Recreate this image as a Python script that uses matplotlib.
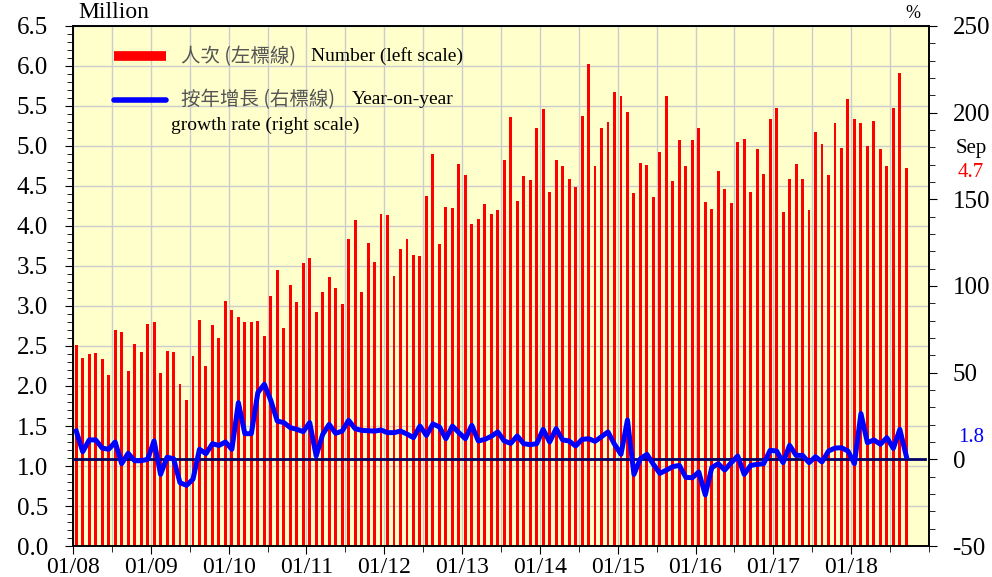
import numpy as np
import matplotlib
matplotlib.use("Agg")
import matplotlib.pyplot as plt
from matplotlib.ticker import MultipleLocator, FixedLocator

plt.rcParams['font.family'] = ['Liberation Serif', 'DejaVu Serif']
plt.rcParams['axes.unicode_minus'] = False

# Monthly data, Jan 2008 - Sep 2018
number = [
    2.51, 2.35, 2.40, 2.41, 2.34, 2.14, 2.70, 2.67, 2.19, 2.52, 2.42, 2.78,
    2.80, 2.16, 2.44, 2.43, 2.02, 1.82, 2.37, 2.83, 2.25, 2.76, 2.60, 3.06,
    2.95, 2.86, 2.80, 2.80, 2.81, 2.62, 3.13, 3.45, 2.72, 3.26, 3.05, 3.54,
    3.60, 2.92, 3.18, 3.36, 3.22, 3.03, 3.84, 4.07, 3.18, 3.79, 3.55, 4.15,
    4.14, 3.37, 3.71, 3.84, 3.64, 3.62, 4.37, 4.90, 3.78, 4.24, 4.22, 4.78,
    4.64, 4.02, 4.09, 4.28, 4.15, 4.20, 4.83, 5.36, 4.31, 4.63, 4.58, 5.23,
    5.46, 4.42, 4.83, 4.75, 4.59, 4.49, 5.37, 6.02, 4.75, 5.22, 5.30, 5.67,
    5.62, 5.42, 4.41, 4.79, 4.76, 4.36, 4.93, 5.62, 4.56, 5.07, 4.75, 5.07,
    5.23, 4.30, 4.21, 4.69, 4.46, 4.29, 5.05, 5.09, 4.42, 4.96, 4.65, 5.34,
    5.48, 4.18, 4.59, 4.78, 4.59, 4.20, 5.17, 5.03, 4.64, 5.29, 4.97, 5.59,
    5.34, 5.29, 5.00, 5.31, 4.96, 4.75, 5.47, 5.91, 4.72,
]
growth = [
    16.3, 4.4, 11.2, 11.2, 6.5, 5.8, 10.0, -2.5, 3.5, -0.8, -0.8, 0.0,
    10.6, -8.7, 1.2, 0.4, -13.5, -15.0, -11.5, 5.8, 3.3, 9.0, 8.0, 10.0,
    5.8, 32.7, 14.8, 14.8, 38.5, 43.3, 34.0, 22.1, 21.2, 18.3, 17.3, 16.0,
    21.2, 1.9, 14.4, 20.2, 15.0, 16.3, 22.5, 17.7, 16.7, 16.5, 16.3, 16.9,
    15.4, 15.4, 16.3, 14.6, 12.5, 19.2, 13.8, 20.4, 18.7, 11.9, 19.2, 15.4,
    11.9, 19.6, 10.6, 11.5, 13.3, 15.8, 10.6, 9.2, 13.5, 9.0, 8.5, 9.0,
    17.3, 10.0, 17.7, 11.2, 10.6, 7.7, 11.5, 11.9, 10.4, 13.1, 15.8, 8.7,
    2.9, 22.7, -8.7, 0.4, 2.9, -2.9, -8.1, -6.2, -4.2, -3.5, -10.4, -10.6,
    -7.3, -20.5, -4.8, -2.5, -6.2, -1.9, 1.9, -8.7, -3.5, -2.9, -2.5, 5.2,
    4.8, -1.9, 8.1, 2.3, 2.3, -1.9, 1.5, -1.5, 4.8, 6.5, 6.7, 4.8,
    -2.5, 26.4, 9.6, 11.2, 8.7, 12.5, 6.3, 17.3, 1.8,
]
year_labels = ['01/08', '01/09', '01/10', '01/11', '01/12', '01/13',
               '01/14', '01/15', '01/16', '01/17', '01/18']

months = np.arange(len(number)) + 0.5

fig = plt.figure(figsize=(9.92, 5.77), dpi=100)
ax = fig.add_axes([0.0736, 0.0537, 0.8629, 0.9013])
ax.set_facecolor('#FFFFCC')
ax.set_axisbelow(True)

ax.bar(months, number, width=0.45, color='#FF0000', zorder=2)
ax.set_xlim(0, 132)
ax.set_ylim(0, 6.5)
ax.set_yticks(np.arange(0, 6.51, 0.5))
ax.set_yticklabels([f'{v:.1f}' for v in np.arange(0, 6.51, 0.5)])
ax.yaxis.set_minor_locator(MultipleLocator(0.1))
ax.set_xticks(np.arange(0, 121, 12))
ax.set_xticklabels(year_labels)
ax.xaxis.set_minor_locator(FixedLocator(list(np.arange(6, 133, 12)) + [132]))
ax.grid(True, which='major', axis='y', color='#CCCCCC', lw=1)
ax.grid(True, which='both', axis='x', color='#CCCCCC', lw=1)
ax.tick_params(axis='both', which='major', length=6, direction='out')
ax.tick_params(axis='both', which='minor', length=4, direction='out')
ax.tick_params(axis='y', labelsize=18, pad=12)
ax.tick_params(axis='x', labelsize=17, pad=2)

ax2 = ax.twinx()
ax2.set_ylim(-50, 250)
ax2.yaxis.set_major_locator(MultipleLocator(50))
ax2.yaxis.set_minor_locator(MultipleLocator(10))
ax2.tick_params(axis='y', which='major', labelsize=18, length=6, pad=11)
ax2.tick_params(axis='y', which='minor', length=4)
ax2.axhline(0, xmin=0, xmax=0.995, color='#000066', lw=2, zorder=3)
ax2.plot(months, growth, color='#0000FF', lw=3.6, solid_joinstyle='round', zorder=4)

for a in (ax, ax2):
    for s in a.spines.values():
        s.set_linewidth(1.2)

# legend drawn by hand
ax.plot([0.048, 0.109], [0.942, 0.942], transform=ax.transAxes, color='#FF0000', lw=7, solid_capstyle='butt')
ax.plot([0.048, 0.109], [0.858, 0.858], transform=ax.transAxes, color='#0000FF', lw=4, solid_capstyle='round')
cjk = ['Noto Sans CJK TC', 'DejaVu Sans']
ax.text(0.126, 0.942, '人次 (左標線)', transform=ax.transAxes, family=cjk, fontsize=14,
        color='#555555', va='center')
ax.text(0.278, 0.942, 'Number (left scale)', transform=ax.transAxes, fontsize=14, va='center')
ax.text(0.126, 0.858, '按年增長 (右標線)', transform=ax.transAxes, family=cjk, fontsize=14,
        color='#555555', va='center')
ax.text(0.326, 0.858, 'Year-on-year', transform=ax.transAxes, fontsize=14, va='center')
ax.text(0.1145, 0.808, 'growth rate (right scale)', transform=ax.transAxes, fontsize=14, va='center')

fig.text(0.0786, 0.979, 'Million', fontsize=17, va='center', ha='left')
fig.text(0.920, 0.976, '%', fontsize=13, va='center', ha='center')
fig.text(0.979, 0.743, 'Sep', fontsize=15, va='center', ha='center')
fig.text(0.979, 0.701, f'{number[-1]:.1f}', fontsize=15, va='center', ha='center', color='#FF0000')
fig.text(0.979, 0.241, f'{growth[-1]:.1f}', fontsize=15, va='center', ha='center', color='#0000FF')

fig.savefig('out.png', dpi=100)
